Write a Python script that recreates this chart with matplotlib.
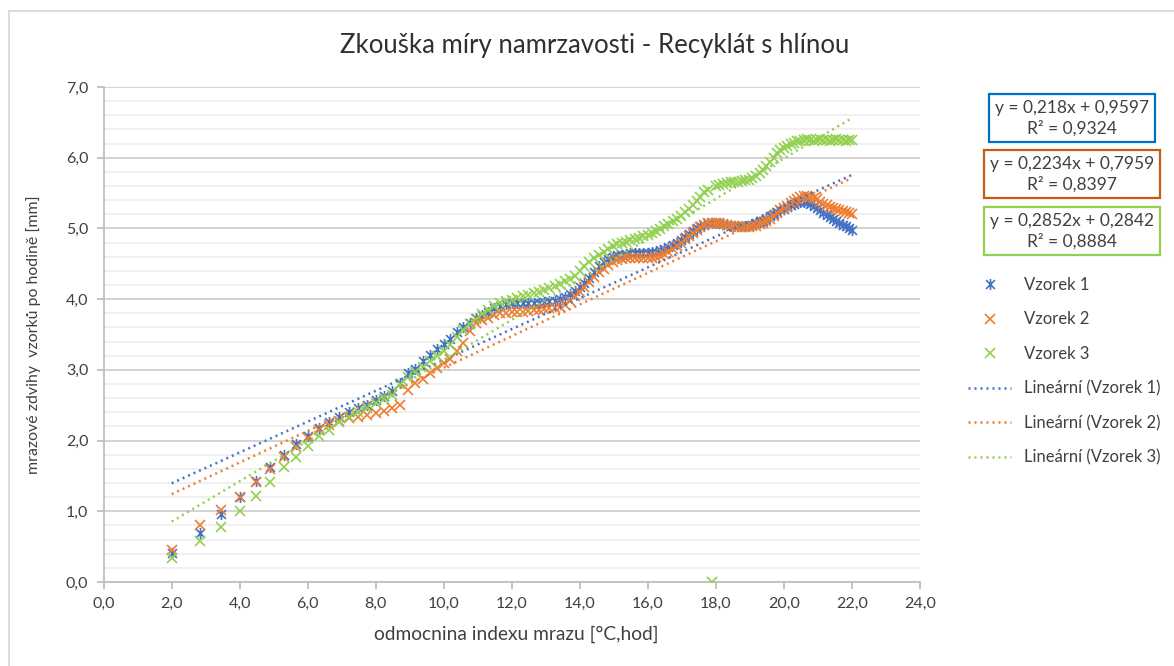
import matplotlib

matplotlib.use("Agg")
import matplotlib.pyplot as plt
import numpy as np
from matplotlib.path import Path
from matplotlib.lines import Line2D
from matplotlib.ticker import MultipleLocator, FuncFormatter

plt.rcParams["font.family"] = ["Lato", "DejaVu Sans"]

# odmocnina indexu mrazu (x)
X = [
    2.00, 2.83, 3.46, 4.00, 4.47, 4.90, 5.29, 5.66, 6.00, 6.32,
    6.63, 6.93, 7.21, 7.48, 7.75, 8.00, 8.25, 8.49, 8.72, 8.94,
    9.17, 9.38, 9.59, 9.80, 10.00, 10.20, 10.39, 10.58, 10.77, 10.95,
    11.14, 11.31, 11.49, 11.66, 11.83, 12.00, 12.17, 12.33, 12.49, 12.65,
    12.81, 12.96, 13.11, 13.27, 13.42, 13.56, 13.71, 13.86, 14.00, 14.14,
    14.28, 14.42, 14.56, 14.70, 14.83, 14.97, 15.10, 15.23, 15.36, 15.49,
    15.62, 15.75, 15.87, 16.00, 16.12, 16.25, 16.37, 16.49, 16.61, 16.73,
    16.85, 16.97, 17.09, 17.20, 17.32, 17.44, 17.55, 17.66, 17.78, 17.89,
    18.00, 18.11, 18.22, 18.33, 18.44, 18.55, 18.65, 18.76, 18.87, 18.97,
    19.08, 19.18, 19.29, 19.39, 19.49, 19.60, 19.70, 19.80, 19.90, 20.00,
    20.10, 20.20, 20.30, 20.40, 20.49, 20.59, 20.69, 20.78, 20.88, 20.98,
    21.07, 21.17, 21.26, 21.35, 21.45, 21.54, 21.63, 21.73, 21.82, 21.91,
    22.00,
]

VZOREK_1 = [
    0.41, 0.69, 0.96, 1.20, 1.43, 1.62, 1.79, 1.95, 2.07, 2.18,
    2.26, 2.33, 2.40, 2.46, 2.51, 2.57, 2.63, 2.70, 2.82, 2.95,
    3.01, 3.12, 3.21, 3.29, 3.36, 3.44, 3.53, 3.60, 3.66, 3.73,
    3.78, 3.82, 3.87, 3.91, 3.93, 3.94, 3.94, 3.94, 3.94, 3.94,
    3.95, 3.96, 3.97, 3.98, 4.00, 4.03, 4.07, 4.11, 4.17, 4.23,
    4.30, 4.39, 4.47, 4.53, 4.57, 4.60, 4.62, 4.63, 4.64, 4.65,
    4.65, 4.65, 4.65, 4.65, 4.66, 4.67, 4.69, 4.71, 4.74, 4.77,
    4.80, 4.84, 4.88, 4.92, 4.96, 5.00, 5.03, 5.05, 5.07, 5.08,
    5.08, 5.07, 5.06, 5.05, 5.04, 5.03, 5.03, 5.03, 5.03, 5.04,
    5.05, 5.07, 5.09, 5.11, 5.14, 5.17, 5.20, 5.23, 5.26, 5.28,
    5.31, 5.33, 5.35, 5.37, 5.38, 5.38, 5.37, 5.35, 5.32, 5.29,
    5.26, 5.22, 5.19, 5.16, 5.13, 5.10, 5.08, 5.05, 5.03, 5.01,
    4.98,
]

VZOREK_2 = [
    0.45, 0.81, 1.02, 1.20, 1.42, 1.60, 1.77, 1.91, 2.04, 2.15,
    2.22, 2.28, 2.32, 2.34, 2.36, 2.39, 2.42, 2.46, 2.50, 2.71,
    2.81, 2.87, 2.95, 3.02, 3.09, 3.16, 3.26, 3.38, 3.55, 3.66,
    3.71, 3.74, 3.77, 3.80, 3.81, 3.82, 3.82, 3.82, 3.83, 3.84,
    3.85, 3.86, 3.87, 3.88, 3.89, 3.92, 3.97, 4.04, 4.10, 4.17,
    4.24, 4.31, 4.38, 4.43, 4.48, 4.52, 4.55, 4.57, 4.58, 4.58,
    4.58, 4.58, 4.58, 4.58, 4.58, 4.59, 4.61, 4.64, 4.67, 4.71,
    4.75, 4.80, 4.85, 4.89, 4.94, 4.98, 5.02, 5.05, 5.07, 5.08,
    5.08, 5.07, 5.06, 5.05, 5.04, 5.03, 5.02, 5.02, 5.02, 5.02,
    5.03, 5.04, 5.06, 5.08, 5.11, 5.14, 5.18, 5.22, 5.26, 5.29,
    5.32, 5.36, 5.39, 5.42, 5.44, 5.46, 5.46, 5.45, 5.43, 5.41,
    5.38, 5.35, 5.33, 5.31, 5.29, 5.27, 5.26, 5.25, 5.23, 5.22,
    5.21,
]

VZOREK_3 = [
    0.34, 0.58, 0.78, 1.00, 1.21, 1.42, 1.62, 1.77, 1.92, 2.06,
    2.15, 2.26, 2.34, 2.40, 2.46, 2.53, 2.59, 2.64, 2.80, 2.90,
    2.97, 3.04, 3.12, 3.19, 3.27, 3.35, 3.46, 3.56, 3.65, 3.72,
    3.79, 3.85, 3.91, 3.94, 3.97, 3.99, 4.02, 4.04, 4.06, 4.08,
    4.10, 4.13, 4.16, 4.19, 4.22, 4.25, 4.29, 4.33, 4.40, 4.47,
    4.53, 4.58, 4.63, 4.67, 4.71, 4.75, 4.78, 4.80, 4.81, 4.83,
    4.85, 4.87, 4.89, 4.91, 4.93, 4.96, 4.99, 5.03, 5.06, 5.10,
    5.14, 5.18, 5.23, 5.28, 5.33, 5.39, 5.45, 5.51, 5.55, 0.00,
    5.60, 5.62, 5.63, 5.64, 5.65, 5.65, 5.66, 5.67, 5.68, 5.69,
    5.71, 5.74, 5.78, 5.83, 5.88, 5.94, 6.00, 6.06, 6.11, 6.14,
    6.17, 6.19, 6.21, 6.23, 6.24, 6.25, 6.26, 6.25, 6.24, 6.25,
    6.26, 6.25, 6.25, 6.24, 6.25, 6.26, 6.25, 6.25, 6.24, 6.25,
    6.25,
]

SERIES = ["Vzorek 1", "Vzorek 2", "Vzorek 3"]
COLORS = ["#4472C4", "#ED7D31", "#92D050"]
BOX_COLORS = ["#0070C0", "#C55A11", "#92D050"]
# Excel trendline labels
SLOPES = [0.218, 0.2234, 0.2852]
INTERCEPTS = [0.9597, 0.7959, 0.2842]
SLOPE_TXT = ["0,218", "0,2234", "0,2852"]
INTERCEPT_TXT = ["0,9597", "0,7959", "0,2842"]
R2_TXT = ["0,9324", "0,8397", "0,8884"]

TEXT = "#404040"

# Excel "star" marker: an x with a vertical bar
STAR = Path(
    [(-1, -1), (1, 1), (-1, 1), (1, -1), (0, -1.25), (0, 1.25)],
    [Path.MOVETO, Path.LINETO] * 3,
)
MARKERS = [STAR, "x", "x"]
MSIZE = [8, 7.5, 7.5]

fig = plt.figure(figsize=(11.74, 6.66), dpi=100)
ax = fig.add_axes([103.7 / 1174, 1 - 582 / 666, 816 / 1174, 495 / 666])

xs = np.array(X)
for ys, col, mk, ms in zip([VZOREK_1, VZOREK_2, VZOREK_3], COLORS, MARKERS, MSIZE):
    ax.plot(xs, ys, ls="none", marker=mk, ms=ms, mew=1.2, color=col, zorder=3)

xline = np.array([xs.min(), xs.max()])
for a, b, col in zip(SLOPES, INTERCEPTS, COLORS):
    ax.plot(xline, a * xline + b, color=col, lw=1.8, ls=(0, (0.8, 1.6)),
            dash_capstyle="butt", zorder=4)

ax.set_xlim(0, 24)
ax.set_ylim(0, 7)
ax.xaxis.set_major_locator(MultipleLocator(2))
ax.yaxis.set_major_locator(MultipleLocator(1))
ax.yaxis.set_minor_locator(MultipleLocator(0.2))
comma = FuncFormatter(lambda v, _: f"{v:.1f}".replace(".", ","))
ax.xaxis.set_major_formatter(comma)
ax.yaxis.set_major_formatter(comma)
ax.grid(axis="y", which="major", color="#D0D0D0", lw=1.3)
ax.grid(axis="y", which="minor", color="#EFEFEF", lw=1.3)
ax.set_axisbelow(True)
for s in ["top", "right"]:
    ax.spines[s].set_visible(False)
for s in ["left", "bottom"]:
    ax.spines[s].set_color("#BFBFBF")
    ax.spines[s].set_linewidth(1.3)
ax.tick_params(which="major", length=5, width=1.3, color="#BFBFBF",
               labelsize=11.5, labelcolor=TEXT, pad=6)
ax.tick_params(which="minor", length=0)

ax.set_xlabel("odmocnina indexu mrazu [°C,hod]", fontsize=13.8, color=TEXT)
ax.set_ylabel("mrazové zdvihy  vzorků po hodině [mm]", fontsize=11.4, color=TEXT)
ax.xaxis.set_label_coords(0.505, -0.088)
ax.yaxis.set_label_coords(-0.077, 0.5)

fig.text(595 / 1174, 1 - 46 / 666, "Zkouška míry namrzavosti - Recyklát s hlínou",
         ha="center", va="center", fontsize=18.5, color="#303030")

# trendline equation boxes
box_y = [118, 174, 231]
for i in range(3):
    fig.text(1072 / 1174, 1 - box_y[i] / 666,
             f"y = {SLOPE_TXT[i]}x + {INTERCEPT_TXT[i]}\nR² = {R2_TXT[i]}",
             ha="center", va="center", fontsize=12.5, color=TEXT,
             linespacing=1.3,
             bbox=dict(boxstyle="square,pad=0.32", fc="white",
                       ec=BOX_COLORS[i], lw=1.6))

handles = [
    Line2D([], [], ls="none", marker=mk, color=col, ms=ms, mew=1.2)
    for mk, col, ms in zip(MARKERS, COLORS, MSIZE)
] + [
    Line2D([], [], color=col, lw=1.8, ls=(0, (0.8, 1.6))) for col in COLORS
]
labels = SERIES + [f"Lineární ({s})" for s in SERIES]
leg = fig.legend(handles, labels, loc="upper left",
                 bbox_to_anchor=(968 / 1174, 1 - 277 / 666),
                 frameon=False, fontsize=12, labelspacing=1.11,
                 handlelength=2.6, handletextpad=0.75, borderpad=0,
                 borderaxespad=0)
for t in leg.get_texts():
    t.set_color(TEXT)

# chart area border
fig.patches.append(plt.Rectangle((9 / 1174, -0.1), 1.2, 1 - 11 / 666 + 0.1,
                                 transform=fig.transFigure, fill=False,
                                 ec="#D9D9D9", lw=1.3))

fig.savefig("out.png", dpi=100)
